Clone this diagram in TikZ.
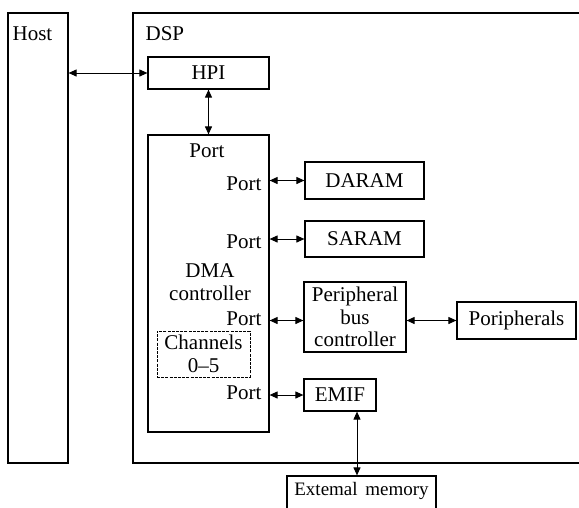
\documentclass[tikz,border=0pt]{standalone}
\usepackage{fontspec}
\setmainfont{Liberation Serif}
\usetikzlibrary{arrows.meta}
\begin{document}
\begin{tikzpicture}[x=1pt,y=-1pt,line width=1.2pt,
  font=\fontsize{21}{22.5}\selectfont,
  box/.style={draw, rectangle, inner sep=0pt, align=center},
  txt/.style={inner sep=0pt},
  biarrow/.style={{Triangle[length=8pt,width=7pt]}-{Triangle[length=8pt,width=7pt]}, line width=1pt}]
\clip (0,0) rectangle (579,507);

% host and DSP frames
\node[box, minimum width=60pt, minimum height=450pt] (host) at (38,238) {};
\node[txt, anchor=base west] (hosttxt) at (12,40) {Host};
\draw (579,13) -- (133,13) -- (133,463) -- (579,463);
\node[txt, anchor=base west] (dsptxt) at (145,40) {DSP};

% host port interface
\node[box, minimum width=121pt, minimum height=32pt] (hpi) at (208.5,73) {HPI};

% DMA controller with its ports
\node[box, minimum width=121pt, minimum height=297pt] (dma) at (208.5,283.5) {};
\node[txt, anchor=base] (port0) at (207,157) {Port};
\node[txt, anchor=base east] (port1) at (262,190) {Port};
\node[txt, anchor=base east] (port2) at (262,248) {Port};
\node[txt, anchor=base east] (port3) at (262,325) {Port};
\node[txt, anchor=base east] (port4) at (262,399) {Port};
\node[txt, align=center] (dmatxt) at (210,282) {DMA\\controller};
\node[box, dashed, dash pattern=on 3pt off 1.2pt, line width=0.8pt,
      minimum width=93pt, minimum height=46pt] (chan) at (203.5,354) {Channels\\0--5};

% memories and peripherals
\node[box, minimum width=119pt, minimum height=37pt] (daram) at (364.5,180.5) {DARAM};
\node[box, minimum width=119pt, minimum height=36pt] (saram) at (364.5,239) {SARAM};
\node[box, minimum width=102pt, minimum height=70pt] (pbc) at (355,317) {Peripheral\\bus\\controller};
\node[box, minimum width=119pt, minimum height=37pt] (periph) at (516.5,320.5) {Poripherals};
\node[box, minimum width=149pt, minimum height=48pt, text depth=22pt,
      font=\fontsize{19}{22}\selectfont] (extmem) at (361.5,500) {Extemal\hspace{0.4em}memory};
\node[box, minimum width=72pt, minimum height=32pt] (emif) at (340,395) {EMIF};
\coordinate (emx) at (357,0);

% connections
\draw[biarrow] (host.east |- hpi.west) -- (hpi.west);
\draw[biarrow] (hpi.south) -- (dma.north);
\draw[biarrow] (dma.east |- daram.west) -- (daram.west);
\draw[biarrow] (dma.east |- saram.west) -- (saram.west);
\draw[biarrow] (dma.east |- periph.west) -- (pbc.west |- periph.west);
\draw[biarrow] (pbc.east |- periph.west) -- (periph.west);
\draw[biarrow] (dma.east |- emif.west) -- (emif.west);
\draw[biarrow] (emif.south -| emx) -- (extmem.north -| emx);
\end{tikzpicture}
\end{document}
